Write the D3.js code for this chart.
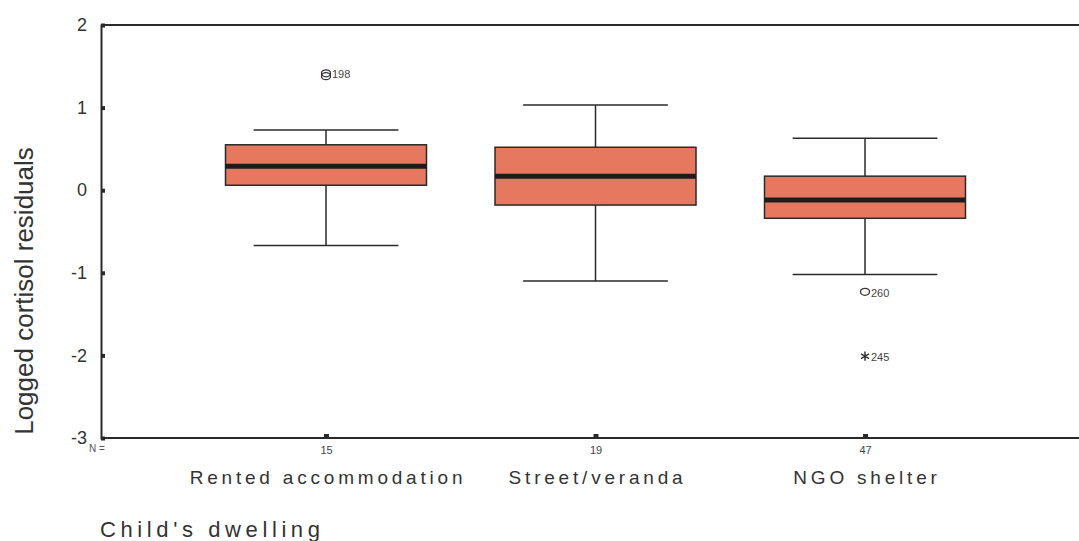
<!DOCTYPE html>
<html>
<head>
<meta charset="utf-8">
<script src="https://cdn.jsdelivr.net/npm/d3@7"></script>
<style>
  body { margin: 0; background: #fff; }
  svg { font-family: Arial, 'Liberation Sans', sans-serif; }
</style>
</head>
<body>
<svg id="chart"></svg>
<script>
const categories = ['Rented accommodation', 'Street/veranda', 'NGO shelter']
const counts = [15, 19, 47]
const whiskerLow = [-0.67, -1.10, -1.02]
const q1 = [0.06, -0.18, -0.34]
const medians = [0.29, 0.17, -0.12]
const q3 = [0.55, 0.52, 0.17]
const whiskerHigh = [0.73, 1.03, 0.63]
// outliers: [category index, value, label ('' = shares the label above), type]
const outliers = [
  [0, 1.415, '198', 'circle'],
  [0, 1.38, '', 'circle'],
  [2, -1.23, '260', 'circle'],
  [2, -2.01, '245', 'star']
]
const yTicks = [2, 1, 0, -1, -2, -3]

const W = 1079, H = 541
const margin = { top: 25, left: 101, right: 0, bottom: 103 }
const width = W - margin.left - margin.right
const height = H - margin.top - margin.bottom

const svg = d3.select('#chart').attr('width', W).attr('height', H)
const g = svg.append('g').attr('transform', 'translate(' + margin.left + ',' + margin.top + ')')

const yScale = d3.scaleLinear().domain([-3, 2]).range([height, 0])
// category centres
const xScale = d3.scalePoint().domain(d3.range(3)).range([225, 764])
const boxW = 201

const fill = '#e5785e'
const ink = '#2a2a2a'

// frame: top line and left axis
g.append('line').attr('x1', 0).attr('x2', width).attr('y1', 0).attr('y2', 0)
  .attr('stroke', ink).attr('stroke-width', 2)

const yAxis = g.append('g').attr('class', 'y-axis')
  .call(d3.axisLeft(yScale).tickValues(yTicks).tickSize(-4).tickPadding(14).tickFormat(d3.format('d')))
yAxis.select('.domain').attr('stroke', ink).attr('stroke-width', 2)
yAxis.selectAll('.tick line').attr('stroke', ink).attr('stroke-width', 4)
yAxis.selectAll('.tick text').attr('font-size', 18).attr('fill', '#333')
yAxis.selectAll('.tick text').text(d => d < 0 ? '-' + Math.abs(d) : d)

const xAxis = g.append('g').attr('class', 'x-axis').attr('transform', 'translate(0,' + height + ')')
  .call(d3.axisBottom(xScale).tickSize(-4).tickPadding(8).tickFormat(i => counts[i]))
xAxis.select('.domain').attr('stroke', ink).attr('stroke-width', 2).attr('d', 'M0,0H' + width)
xAxis.selectAll('.tick line').attr('stroke', ink).attr('stroke-width', 5)
xAxis.selectAll('.tick text').attr('font-size', 11).attr('fill', '#444')

g.append('text').attr('x', -12).attr('y', height + 14).attr('font-size', 10).attr('fill', '#555')
  .text('N =')

// boxes
const idx = d3.range(categories.length)
const boxes = g.append('g').selectAll('g').data(idx).join('g')

boxes.append('line')
  .attr('x1', i => xScale(i)).attr('x2', i => xScale(i))
  .attr('y1', i => yScale(whiskerHigh[i])).attr('y2', i => yScale(q3[i]))
  .attr('stroke', ink).attr('stroke-width', 1.5)
boxes.append('line')
  .attr('x1', i => xScale(i)).attr('x2', i => xScale(i))
  .attr('y1', i => yScale(q1[i])).attr('y2', i => yScale(whiskerLow[i]))
  .attr('stroke', ink).attr('stroke-width', 1.5)
boxes.selectAll('.cap').data(i => [[i, whiskerHigh[i]], [i, whiskerLow[i]]]).join('line')
  .attr('class', 'cap')
  .attr('x1', d => xScale(d[0]) - boxW * 0.36).attr('x2', d => xScale(d[0]) + boxW * 0.36)
  .attr('y1', d => yScale(d[1])).attr('y2', d => yScale(d[1]))
  .attr('stroke', ink).attr('stroke-width', 1.5)
boxes.append('rect')
  .attr('x', i => xScale(i) - boxW / 2).attr('width', boxW)
  .attr('y', i => yScale(q3[i])).attr('height', i => yScale(q1[i]) - yScale(q3[i]))
  .attr('fill', fill).attr('stroke', ink).attr('stroke-width', 1.5)
boxes.append('line')
  .attr('x1', i => xScale(i) - boxW / 2).attr('x2', i => xScale(i) + boxW / 2)
  .attr('y1', i => yScale(medians[i])).attr('y2', i => yScale(medians[i]))
  .attr('stroke', '#1c1c1c').attr('stroke-width', 5)

// outliers
outliers.forEach(o => {
  const cx = xScale(o[0])
  const cy = yScale(o[1])
  if (o[3] === 'circle') {
    g.append('ellipse').attr('cx', cx).attr('cy', cy).attr('rx', 4.5).attr('ry', 3.5)
      .attr('fill', 'none').attr('stroke', '#333').attr('stroke-width', 1.3)
  } else {
    g.append('path').attr('d', d3.symbol(d3.symbolAsterisk, 60)())
      .attr('transform', 'translate(' + cx + ',' + cy + ')')
      .attr('stroke', '#333').attr('stroke-width', 1.5).attr('fill', 'none')
  }
  if (o[2]) {
    g.append('text').attr('x', cx + 6).attr('y', cy + 5).attr('font-size', 11).attr('fill', '#444')
      .text(o[2])
  }
})

// category labels
g.selectAll('.cat').data(idx).join('text').attr('class', 'cat')
  .attr('x', i => xScale(i) + 2).attr('y', height + 46)
  .attr('text-anchor', 'middle').attr('font-size', 19).attr('letter-spacing', 3.8).attr('fill', '#333')
  .text(i => categories[i])

// titles
svg.append('text').attr('transform', 'translate(33,291) rotate(-90)')
  .attr('text-anchor', 'middle').attr('font-size', 26).attr('fill', '#333')
  .text('Logged cortisol residuals')

svg.append('text').attr('x', 100).attr('y', 537).attr('font-size', 22).attr('letter-spacing', 4.6)
  .attr('fill', '#333').text("Child's dwelling")
</script>
</body>
</html>
